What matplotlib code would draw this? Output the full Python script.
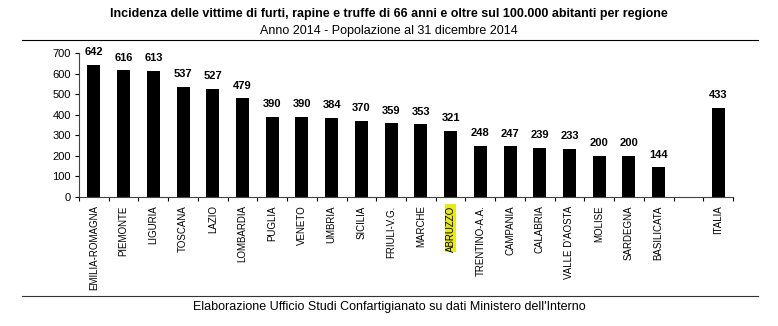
import matplotlib
matplotlib.use("Agg")
import matplotlib.pyplot as plt
from matplotlib.lines import Line2D
import numpy as np

plt.rcParams['font.family'] = ['Liberation Sans', 'DejaVu Sans']

regions = ["EMILIA-ROMAGNA", "PIEMONTE", "LIGURIA", "TOSCANA", "LAZIO", "LOMBARDIA",
           "PUGLIA", "VENETO", "UMBRIA", "SICILIA", "FRIULI-V.G.", "MARCHE", "ABRUZZO",
           "TRENTINO-A.A.", "CAMPANIA", "CALABRIA", "VALLE D'AOSTA", "MOLISE",
           "SARDEGNA", "BASILICATA"]
values = [642, 616, 613, 537, 527, 479, 390, 390, 384, 370, 359, 353, 321,
          248, 247, 239, 233, 200, 200, 144]
total_label = "ITALIA"
total_value = 433
highlight = "ABRUZZO"

labels = regions + [total_label]
vals = values + [total_value]
# one empty slot between the regions and the national value
pos = list(range(len(regions))) + [len(regions) + 1]

W, H = 778, 326
fig = plt.figure(figsize=(W / 100, H / 100), dpi=100)
ax = fig.add_axes([79 / W, (H - 197) / H, (733 - 79) / W, (197 - 53) / H])

ax.bar(pos, vals, width=0.44, color="black")
ax.set_xlim(-0.5, len(regions) + 1.5)
ax.set_ylim(0, 700)
ax.set_yticks(np.arange(0, 701, 100))
ax.tick_params(axis="y", labelsize=8, length=3, width=0.8, pad=3)
ax.set_xticks(np.arange(-0.5, len(regions) + 2, 1.0))
ax.set_xticklabels([])
ax.tick_params(axis="x", length=3, width=0.8)
for s in ("top", "right"):
    ax.spines[s].set_visible(False)
for s in ("left", "bottom"):
    ax.spines[s].set_linewidth(0.8)
    ax.spines[s].set_color("#444444")

for p, v, lab in zip(pos, vals, labels):
    ax.annotate(str(v), (p, v), xytext=(0, 5.5), textcoords="offset points",
                ha="center", va="bottom", fontsize=8, fontweight="bold")
    t = ax.annotate(lab, (p, 0), xytext=(0, -6), textcoords="offset points",
                    ha="center", va="top", rotation=90, fontsize=7)
    if lab == highlight:
        t.set_bbox(dict(facecolor="#e8e820", edgecolor="none", pad=0.6))

fig.text(389 / W, 1 - 14 / H, "Incidenza delle vittime di furti, rapine e truffe di 66 anni e oltre sul 100.000 abitanti per regione",
         ha="center", va="center", fontsize=9, fontweight="bold")
fig.text(389 / W, 1 - 31 / H, "Anno 2014 - Popolazione al 31 dicembre 2014",
         ha="center", va="center", fontsize=9)
fig.add_artist(Line2D([22 / W, 758 / W], [1 - 40 / H, 1 - 40 / H], color="black", lw=0.8))
fig.add_artist(Line2D([22 / W, 758 / W], [1 - 296 / H, 1 - 296 / H], color="#333333", lw=0.8))
fig.text(389 / W, 1 - 307 / H, "Elaborazione Ufficio Studi Confartigianato su dati Ministero dell'Interno",
         ha="center", va="center", fontsize=9)

fig.savefig("out.png", dpi=100, facecolor="white")
